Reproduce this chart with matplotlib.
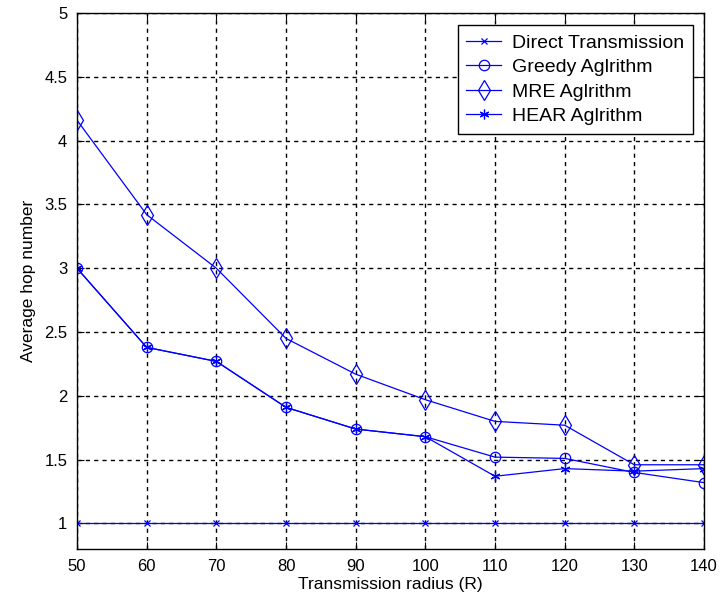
import matplotlib
matplotlib.use("Agg")
import matplotlib.pyplot as plt

plt.rcParams['font.family'] = ['Liberation Sans', 'DejaVu Sans']

radius = [50, 60, 70, 80, 90, 100, 110, 120, 130, 140]
direct = [1, 1, 1, 1, 1, 1, 1, 1, 1, 1]
greedy = [3.0, 2.38, 2.27, 1.91, 1.74, 1.68, 1.52, 1.51, 1.40, 1.32]
mre = [4.16, 3.42, 3.0, 2.45, 2.17, 1.97, 1.80, 1.77, 1.46, 1.46]
hear = [3.0, 2.38, 2.27, 1.91, 1.74, 1.68, 1.37, 1.43, 1.41, 1.43]

xticks = [50, 60, 70, 80, 90, 100, 110, 120, 130, 140]
yticks = [1, 1.5, 2, 2.5, 3, 3.5, 4, 4.5, 5]
ytick_labels = ['1', '1.5', '2', '2.5', '3', '3.5', '4', '4.5', '5']

blue = '#0000ff'
fig = plt.figure(figsize=(7.2, 6.12), dpi=100)
ax = fig.add_axes([77/720, 1 - 549/612, (704-77)/720, (549-13)/612])

kw = dict(color=blue, lw=0.9, markerfacecolor='none', markeredgecolor=blue, markeredgewidth=0.9)
ax.plot(radius, direct, marker='x', markersize=5, label='Direct Transmission', **kw)
ax.plot(radius, greedy, marker='o', markersize=7.5, label='Greedy Aglrithm', **kw)
ax.plot(radius, mre, marker='d', markersize=10, label='MRE Aglrithm', **kw)
ax.plot(radius, hear, marker=(6, 2, 0), markersize=7, label='HEAR Aglrithm', **kw)

ax.set_xlim(50, 140)
ax.set_ylim(0.8, 5)
ax.set_xticks(xticks)
ax.set_yticks(yticks)
ax.set_yticklabels(ytick_labels)
ax.tick_params(direction='in', top=True, right=True, labelsize=12, length=5, pad=7)
ax.grid(True, color='black', linestyle=(0, (3, 3)), linewidth=1.0)
for s in ax.spines.values():
    s.set_linewidth(1.0)

ax.set_xlabel('Transmission radius (R)', fontsize=12.5, labelpad=2)
ax.set_ylabel('Average hop number', fontsize=12.5, labelpad=6)

leg = ax.legend(loc='upper right', bbox_to_anchor=(0.9825, 0.977), fontsize=14, frameon=True,
                fancybox=False, edgecolor='black', framealpha=1, borderpad=0.45,
                labelspacing=0.35, handlelength=1.8, handletextpad=0.55, borderaxespad=0)
leg.get_frame().set_linewidth(1.0)

fig.savefig('out.png', dpi=100, facecolor='white')
